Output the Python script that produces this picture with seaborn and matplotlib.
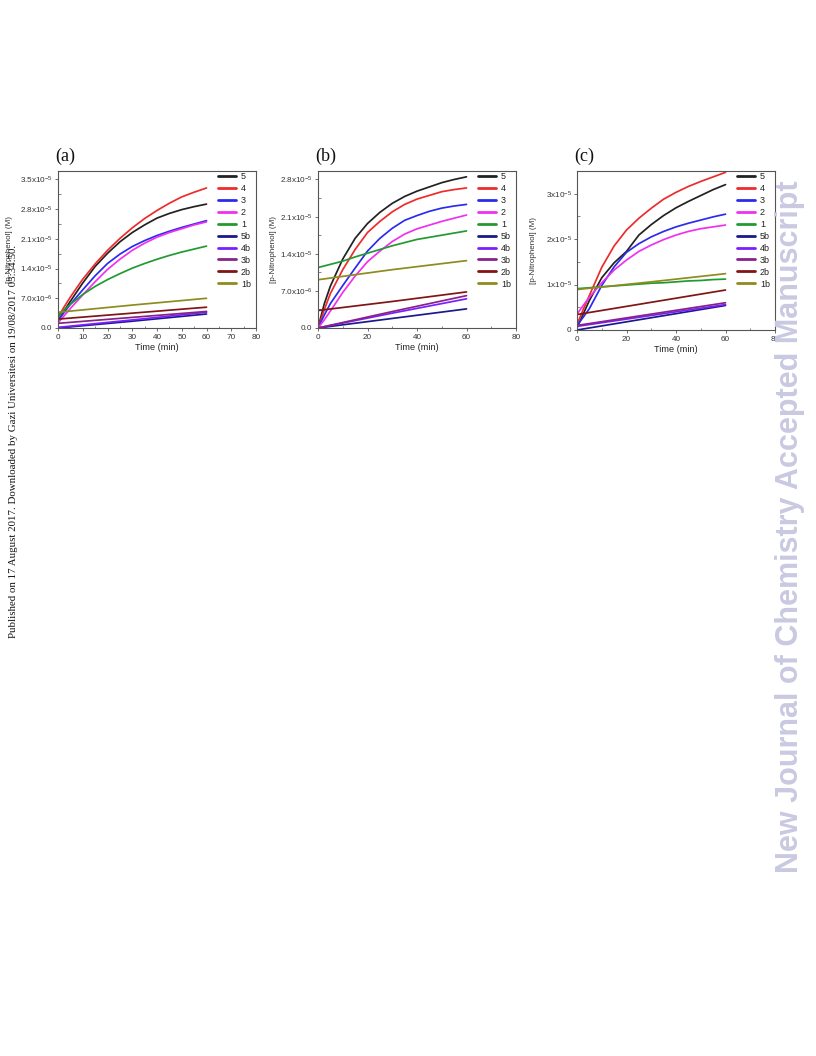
import numpy as np
import pandas as pd
import matplotlib
matplotlib.use("Agg")
import matplotlib.pyplot as plt
from matplotlib.ticker import MultipleLocator
import seaborn as sns

sns.set_theme(style="white")
plt.rcParams['font.family'] = ['Liberation Sans', 'DejaVu Sans']
plt.rcParams['mathtext.fontset'] = 'custom'
plt.rcParams['mathtext.rm'] = 'Liberation Sans'
plt.rcParams['mathtext.it'] = 'Liberation Sans:italic'
plt.rcParams['mathtext.bf'] = 'Liberation Sans:bold'

# ---------------- data (values in units of 1e-6 M) ----------------
series_names = ["5", "4", "3", "2", "1", "5b", "4b", "3b", "2b", "1b"]
series_colors = ["#222222", "#ee2b2b", "#2b2bee", "#f030f0", "#219a31",
                 "#1a1a8a", "#7a1fff", "#882288", "#801515", "#8c8c1f"]

t_curve = [0, 2.5, 5, 10, 15, 20, 25, 30, 35, 40, 45, 50, 55, 60]
t_lin = [0, 30, 60]

# panel (a)
a_5 = [1.7, 4.1, 6.3, 10.6, 14.5, 17.6, 20.3, 22.5, 24.3, 25.9, 27.0, 27.9, 28.6, 29.2]
a_4 = [2.5, 5.0, 7.3, 11.5, 15.1, 18.3, 21.1, 23.6, 25.8, 27.7, 29.4, 30.9, 32.0, 33.0]
a_3 = [1.7, 3.7, 5.6, 9.0, 12.3, 15.2, 17.4, 19.2, 20.6, 21.8, 22.8, 23.7, 24.5, 25.3]
a_2 = [1.2, 2.9, 4.6, 7.8, 10.9, 13.8, 16.2, 18.3, 20.0, 21.4, 22.5, 23.4, 24.3, 25.0]
a_1 = [2.5, 4.3, 5.6, 7.9, 9.8, 11.4, 12.8, 14.1, 15.2, 16.2, 17.1, 17.9, 18.6, 19.3]
a_5b = [0.0, 1.6, 3.3]
a_4b = [0.15, 1.9, 3.7]
a_3b = [1.1, 2.5, 3.9]
a_2b = [2.1, 3.5, 4.9]
a_1b = [3.7, 5.4, 7.0]

# panel (b)
b_5 = [0.0, 4.5, 7.9, 13.0, 16.9, 19.7, 21.8, 23.5, 24.8, 25.8, 26.6, 27.4, 28.0, 28.5]
b_4 = [0.0, 3.4, 6.5, 11.0, 14.8, 18.0, 20.1, 21.9, 23.3, 24.3, 25.0, 25.7, 26.1, 26.4]
b_3 = [0.0, 2.4, 4.6, 8.0, 11.3, 14.5, 16.9, 18.8, 20.3, 21.2, 22.0, 22.6, 23.0, 23.3]
b_2 = [0.0, 1.5, 3.2, 6.7, 9.8, 12.5, 14.5, 16.3, 17.7, 18.7, 19.4, 20.1, 20.7, 21.3]
b_1 = [11.4, 11.7, 12.0, 12.6, 13.4, 14.1, 14.8, 15.5, 16.1, 16.7, 17.1, 17.5, 17.9, 18.3]
b_5b = [0.0, 1.8, 3.6]
b_4b = [0.0, 2.8, 5.5]
b_3b = [0.0, 3.1, 6.1]
b_2b = [3.3, 5.0, 6.8]
b_1b = [9.1, 11.0, 12.7]

# panel (c)
c_5 = [0.5, 3.5, 6.5, 11.5, 14.8, 17.3, 20.9, 23.2, 25.2, 26.9, 28.3, 29.6, 30.9, 32.0]
c_4 = [1.2, 4.5, 7.6, 13.8, 18.5, 22.0, 24.6, 26.8, 28.8, 30.3, 31.6, 32.7, 33.7, 34.7]
c_3 = [1.0, 2.8, 4.7, 9.8, 13.9, 17.1, 19.0, 20.5, 21.7, 22.7, 23.5, 24.2, 24.9, 25.5]
c_2 = [3.5, 5.4, 7.2, 10.4, 13.2, 15.4, 17.3, 18.7, 19.9, 20.9, 21.7, 22.3, 22.7, 23.1]
c_1 = [9.1, 9.2, 9.3, 9.5, 9.7, 9.9, 10.1, 10.3, 10.4, 10.6, 10.8, 10.9, 11.1, 11.2]
c_5b = [0.0, 2.7, 5.4]
c_4b = [0.8, 3.2, 5.6]
c_3b = [1.0, 3.5, 6.0]
c_2b = [3.4, 6.1, 8.8]
c_1b = [8.9, 10.6, 12.4]

panel_titles = ["(a)", "(b)", "(c)"]
x_label = "Time (min)"
y_label = "[p-Nitrophenol] (M)"

a_yticks = [0, 7e-6, 1.4e-5, 2.1e-5, 2.8e-5, 3.5e-5]
a_yticklabels = ["0.0", r"7.0x10$^{-6}$", r"1.4x10$^{-5}$", r"2.1x10$^{-5}$",
                 r"2.8x10$^{-5}$", r"3.5x10$^{-5}$"]
b_yticks = [0, 7e-6, 1.4e-5, 2.1e-5, 2.8e-5]
b_yticklabels = ["0.0", r"7.0x10$^{-6}$", r"1.4x10$^{-5}$", r"2.1x10$^{-5}$",
                 r"2.8x10$^{-5}$"]
c_yticks = [0, 1e-5, 2e-5, 3e-5]
c_yticklabels = ["0", r"1x10$^{-5}$", r"2x10$^{-5}$", r"3x10$^{-5}$"]
a_xticks = [0, 10, 20, 30, 40, 50, 60, 70, 80]
bc_xticks = [0, 20, 40, 60, 80]

side_text = "Published on 17 August 2017. Downloaded by Gazi Universitesi on 19/08/2017 03:34:50."
watermark = "New Journal of Chemistry Accepted Manuscript"


def build_df(curves, lines):
    rows = []
    for name, vals in zip(series_names[:5], curves):
        for t, v in zip(t_curve, vals):
            rows.append((name, t, v * 1e-6))
    for name, vals in zip(series_names[5:], lines):
        for t, v in zip(t_lin, vals):
            rows.append((name, t, v * 1e-6))
    return pd.DataFrame(rows, columns=["series", "time", "conc"])


dfs = [
    build_df([a_5, a_4, a_3, a_2, a_1], [a_5b, a_4b, a_3b, a_2b, a_1b]),
    build_df([b_5, b_4, b_3, b_2, b_1], [b_5b, b_4b, b_3b, b_2b, b_1b]),
    build_df([c_5, c_4, c_3, c_2, c_1], [c_5b, c_4b, c_3b, c_2b, c_1b]),
]

W, H = 816, 1056
fig = plt.figure(figsize=(W / 100, H / 100), dpi=100)

# axes boxes in pixels: left, right, top, bottom
boxes = [(58, 256, 171, 328), (318, 516, 171, 328), (577, 775, 171, 330)]
ylims = [(0, 3.7e-5), (0, 2.96e-5), (0, 3.5e-5)]
yticks = [(a_yticks, a_yticklabels), (b_yticks, b_yticklabels), (c_yticks, c_yticklabels)]
yminor = [3.5e-6, 3.5e-6, 5e-6]
xticks = [a_xticks, bc_xticks, bc_xticks]
xminor = [5, 10, 10]
ylab_x = [-0.225, -0.207, -0.2]
palette = dict(zip(series_names, series_colors))
axis_col = "#555555"

for i in range(3):
    l, r, t, b = boxes[i]
    ax = fig.add_axes([l / W, 1 - b / H, (r - l) / W, (b - t) / H])
    sns.lineplot(data=dfs[i], x="time", y="conc", hue="series", hue_order=series_names,
                 palette=palette, estimator=None, sort=False, linewidth=1.25, ax=ax)
    ax.set_xlim(0, 80)
    ax.set_ylim(*ylims[i])
    ax.set_xticks(xticks[i])
    ax.set_xticklabels([str(v) for v in xticks[i]])
    ax.set_yticks(yticks[i][0])
    ax.set_yticklabels(yticks[i][1])
    ax.xaxis.set_minor_locator(MultipleLocator(xminor[i]))
    ax.yaxis.set_minor_locator(MultipleLocator(yminor[i]))
    ax.tick_params(which="major", direction="out", length=2.5, width=0.6,
                   color=axis_col, labelsize=5.9, labelcolor="#333333", pad=1.5,
                   bottom=True, left=True)
    ax.tick_params(which="minor", direction="in", length=1.8, width=0.5,
                   color=axis_col, bottom=True, left=True)
    for s in ax.spines.values():
        s.set_color(axis_col)
        s.set_linewidth(0.8)
        s.set_visible(True)
    ax.set_xlabel(x_label, fontsize=6.6, color="#222222", labelpad=1.5)
    ax.set_ylabel(y_label, fontsize=5.8, color="#333333")
    ax.yaxis.set_label_coords(ylab_x[i], 0.5)
    leg = ax.legend(loc="upper left", bbox_to_anchor=(0.81, 0.995), frameon=False,
                    fontsize=6.5, handlelength=2.0, handletextpad=0.5,
                    labelspacing=0.33, borderpad=0, borderaxespad=0)
    for h in leg.get_lines():
        h.set_linewidth(2.0)
    for txt in leg.get_texts():
        txt.set_color("#222222")
    fig.text((l - 3) / W, 1 - 156 / H, panel_titles[i], fontsize=13,
             family=["Liberation Serif", "DejaVu Serif"], ha="left", va="center",
             color="#111111")

fig.text(14 / W, 1 - 441 / H, side_text, rotation=90, fontsize=7.8,
         family=["Liberation Serif", "DejaVu Serif"], ha="center", va="center",
         color="#111111")
fig.text(790 / W, 1 - 527 / H, watermark, rotation=90, fontsize=22,
         fontweight="bold", ha="center", va="center", color="#c9c9e2")

fig.savefig("out.png", dpi=100)
